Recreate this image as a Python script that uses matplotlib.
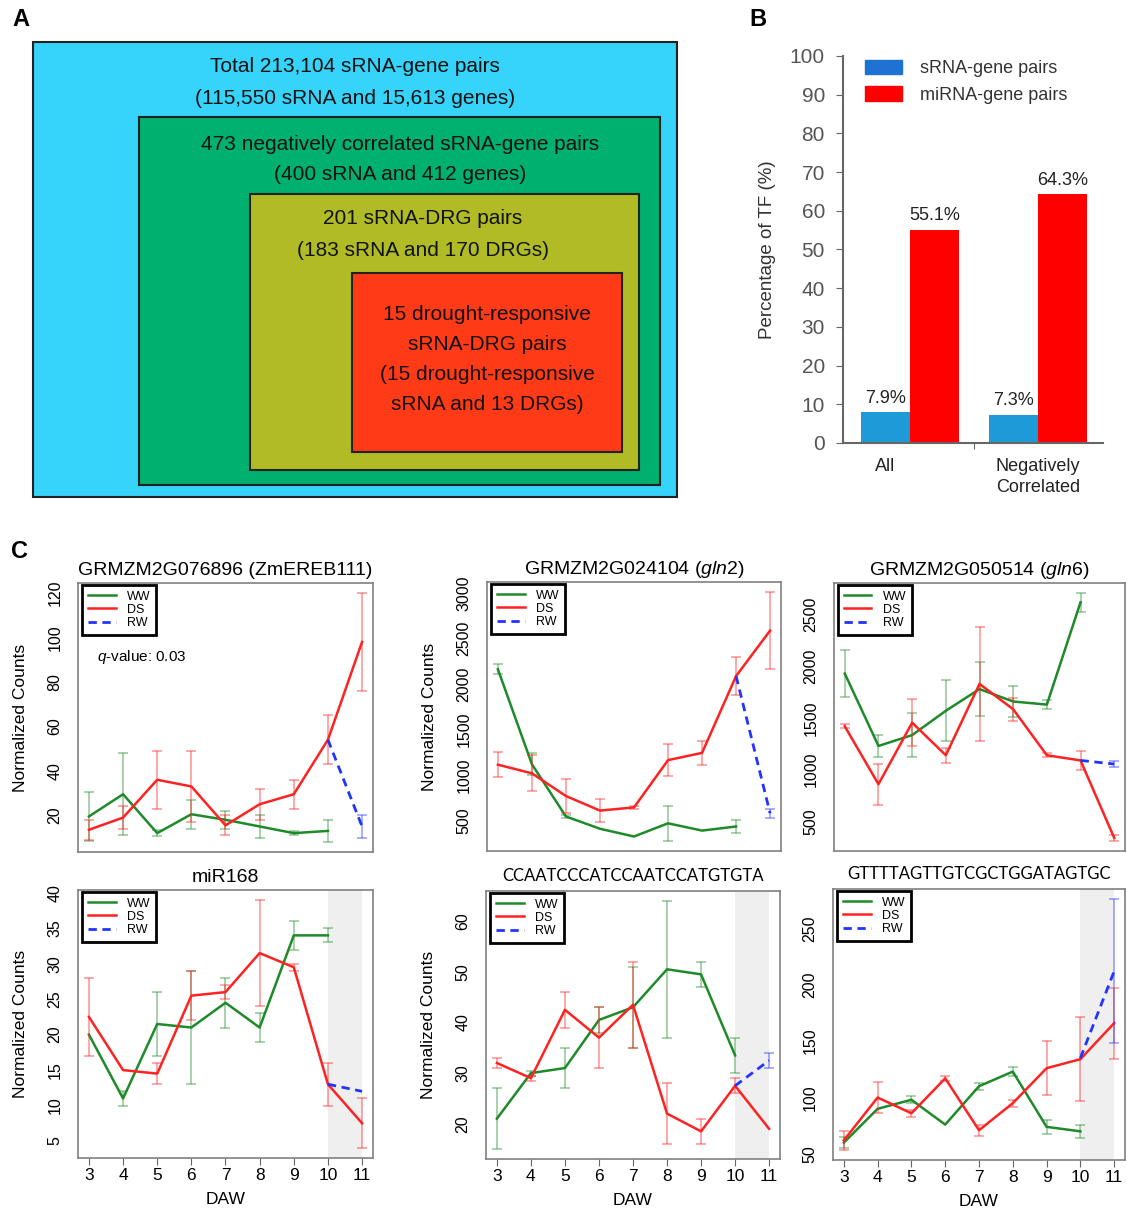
import numpy as np
import matplotlib
matplotlib.use('Agg')
import matplotlib.pyplot as plt
from matplotlib.patches import Rectangle, Patch

plt.rcParams['font.family'] = ['Liberation Sans', 'DejaVu Sans']
plt.rcParams['mathtext.fontset'] = 'custom'
plt.rcParams['mathtext.rm'] = 'Liberation Sans'
plt.rcParams['mathtext.it'] = 'Liberation Sans:italic'

# ---- Panel A: nested sets ----
box_lines = [
    ['Total 213,104 sRNA-gene pairs', '(115,550 sRNA and 15,613 genes)'],
    ['473 negatively correlated sRNA-gene pairs', '(400 sRNA and 412 genes)'],
    ['201 sRNA-DRG pairs', '(183 sRNA and 170 DRGs)'],
    ['15 drought-responsive', 'sRNA-DRG pairs', '(15 drought-responsive', 'sRNA and 13 DRGs)'],
]
box_colors = ['#36d3fa', '#00b06e', '#b0bb25', '#ff3a17']

# ---- Panel B: TF percentages ----
groups = ['All', 'Negatively\nCorrelated']
srna_pct = [7.9, 7.3]
mirna_pct = [55.1, 64.3]

# ---- Panel C: expression profiles ----
days = [3, 4, 5, 6, 7, 8, 9, 10, 11]
ww_days = days[:8]
rw_days = [10, 11]

titles = ['GRMZM2G076896 (ZmEREB111)', r'GRMZM2G024104 ($\it{gln2}$)', r'GRMZM2G050514 ($\it{gln6}$)',
          'miR168', 'CCAATCCCATCCAATCCATGTGTA', 'GTTTTAGTTGTCGCTGGATAGTGC']

ww_mean = [
    [19.5, 29.5, 12, 20.5, 18, 15, 12, 13],
    [2165, 1120, 545, 410, 325, 470, 390, 435],
    [1930, 1230, 1335, 1570, 1780, 1660, 1630, 2620],
    [20, 11, 21.5, 21, 24.5, 21, 34, 34],
    [21, 30, 31, 40.5, 43, 50.5, 49.5, 33.5],
    [60, 90, 98, 76, 110, 123, 74, 70],
]
ww_err = [
    [11, 18.5, 1.5, 6.5, 4, 5, 1, 5],
    [55, 120, 20, 0, 0, 195, 0, 70],
    [230, 110, 215, 295, 260, 150, 40, 90],
    [0, 1, 4.5, 8, 3.5, 2, 2, 1],
    [6, 0.5, 4, 2.5, 8, 13.5, 2.5, 3.5],
    [5, 0, 3, 0, 3, 4, 6, 6],
]
ds_mean = [
    [13.5, 19, 36, 33, 15.5, 25, 29.5, 54, 98],
    [1115, 1020, 770, 610, 645, 1165, 1245, 2090, 2590],
    [1420, 860, 1455, 1140, 1830, 1585, 1140, 1090, 340],
    [22.5, 15, 14.5, 25.5, 26, 31.5, 29.5, 13, 7.5],
    [32, 29, 42.5, 37, 43.5, 22, 18.5, 27.5, 19],
    [62, 100, 86, 117, 71, 95, 126, 134, 166],
]
ds_err = [
    [4.5, 5, 13, 16, 4.5, 7, 6.5, 11, 22],
    [140, 200, 190, 125, 15, 175, 130, 210, 425],
    [20, 200, 225, 75, 550, 110, 20, 90, 30],
    [5.5, 0, 1.5, 3.5, 1, 7.5, 0.5, 3, 3.5],
    [1, 0.5, 3.5, 6, 8.5, 6, 2.5, 1.5, 0],
    [8.5, 13.5, 3, 2, 5, 3, 24, 37.5, 31.5],
]
rw_mean = [[54, 15], [2090, 580], [1090, 1055], [13, 12], [27.5, 32.5], [135, 212]]
rw_err = [[0, 5], [0, 50], [0, 25], [0, 0], [0, 1.5], [0, 64]]

y_ticks = [np.arange(20, 121, 20), np.arange(500, 3001, 500), np.arange(500, 2501, 500),
           np.arange(5, 41, 5), np.arange(20, 61, 10), np.arange(50, 251, 50)]

W, H = 1127, 1212
fig = plt.figure(figsize=(W / 100, H / 100), dpi=100)


def rect(l, t, r, b):
    return [l / W, 1 - b / H, (r - l) / W, (b - t) / H]


# background axes in pixel units for panel A and panel letters
bg = fig.add_axes([0, 0, 1, 1])
bg.set_xlim(0, W)
bg.set_ylim(H, 0)
bg.axis('off')

box_pos = [(33, 42, 677, 497), (139, 117, 660, 485), (250, 194, 639, 470), (352, 273, 622, 452)]
text_x = [355, 400, 423, 487]
text_y = [[67, 98], [145, 175], [219, 250], [314, 345, 375, 405]]
for (l, t, r, b), c in zip(box_pos, box_colors):
    bg.add_patch(Rectangle((l, t), r - l, b - t, facecolor=c, edgecolor='#222222', lw=1.5))
for lines, tx, tys in zip(box_lines, text_x, text_y):
    for s, ty in zip(lines, tys):
        bg.text(tx, ty, s, ha='center', va='center', fontsize=15, color='#111111')

for lab, (lx, ly) in zip(['A', 'B', 'C'], [(21, 20), (758, 20), (20, 551)]):
    bg.text(lx, ly, lab, ha='center', va='center', fontsize=17, fontweight='bold')

# ---- Panel B ----
axB = fig.add_axes(rect(843, 56, 1103, 443))
x = np.arange(len(groups))
w = 0.383
bars1 = axB.bar(x - w / 2, srna_pct, w, color='#1f9ad8')
bars2 = axB.bar(x + w / 2, mirna_pct, w, color='#ff0000')
for bars, vals in [(bars1, srna_pct), (bars2, mirna_pct)]:
    for bar, v in zip(bars, vals):
        axB.annotate(f'{v}%', (bar.get_x() + bar.get_width() / 2, v), xytext=(0, 4),
                     textcoords='offset points', ha='center', va='bottom', fontsize=13, color='#222222')
axB.set_xlim(-0.523, 1.508)
axB.set_ylim(0, 100)
axB.set_yticks(np.arange(0, 101, 10))
axB.set_xticks([0.5])
axB.set_xticklabels([])
axB.tick_params(axis='y', labelsize=15, labelcolor='#555555', color='#666666', length=5, pad=8)
axB.tick_params(axis='x', color='#666666', length=4)
for s in ['top', 'right']:
    axB.spines[s].set_visible(False)
for s in ['left', 'bottom']:
    axB.spines[s].set_color('#666666')
    axB.spines[s].set_linewidth(1.5)
axB.annotate(groups[0], (x[0] - w / 2, 0), xytext=(0, -11), textcoords='offset points',
             ha='center', va='top', fontsize=13, color='#222222')
axB.annotate(groups[1], (x[1], 0), xytext=(0, -11), textcoords='offset points',
             ha='center', va='top', fontsize=13, color='#222222', linespacing=1.25)
axB.set_ylabel('Percentage of TF (%)', fontsize=13.5, color='#333333', labelpad=10)
axB.legend(handles=[Patch(color='#1d72d3', label='sRNA-gene pairs'),
                    Patch(color='#ff0000', label='miRNA-gene pairs')],
           loc='upper left', bbox_to_anchor=(0.085, 0.99), frameon=False, fontsize=13,
           handlelength=2.05, handleheight=0.85, handletextpad=1.0, labelspacing=0.5,
           borderpad=0, borderaxespad=0, labelcolor='#333333')

# ---- Panel C ----
c_pos = [(78, 583, 373, 852), (487, 582, 781, 851), (834, 583, 1125, 851),
         (78, 890, 373, 1158), (486, 891, 780, 1159), (833, 889, 1125, 1160)]
green, red, blue = '#1f8a2a', '#ff2222', '#2233ff'

for i, pos in enumerate(c_pos):
    ax = fig.add_axes(rect(*pos))
    bottom = i >= 3
    if bottom:
        ax.axvspan(10, 11, color='#efefef', zorder=0, lw=0)
    series = [(ww_days, ww_mean[i], ww_err[i], green, '-', 'WW'),
              (days, ds_mean[i], ds_err[i], red, '-', 'DS'),
              (rw_days, rw_mean[i], rw_err[i], blue, (0, (3, 2)), 'RW')]
    for xs, ys, es, c, ls, lab in series:
        xs, ys, es = np.array(xs), np.array(ys), np.array(es)
        m = es > 0
        ax.errorbar(xs[m], ys[m], yerr=es[m], fmt='none', ecolor=c, alpha=0.5,
                    capsize=3.5, elinewidth=1.1, capthick=1.1)
        ax.plot(xs, ys, color=c, lw=1.8 if lab != 'RW' else 2.0, linestyle=ls, label=lab)
    ax.margins(x=0.04, y=0.04)
    ax.set_xlim(2.68, 11.32)
    ax.set_yticks(y_ticks[i])
    ax.tick_params(axis='y', labelrotation=90, labelsize=11.5, length=0, pad=11)
    for t in ax.get_yticklabels():
        t.set_va('center')
    if bottom:
        ax.set_xticks(days)
        ax.tick_params(axis='x', labelsize=12.5, length=5, color='#666666', pad=2)
        ax.set_xlabel('DAW', fontsize=12.5, labelpad=7)
    else:
        ax.set_xticks([])
    for s in ax.spines.values():
        s.set_color('#808080')
        s.set_linewidth(1.2)
    if i % 3 != 2:
        ax.set_ylabel('Normalized Counts', fontsize=12.5)
        ax.yaxis.set_label_coords(-50 / (pos[2] - pos[0]), 0.5)
    if i >= 4:
        ax.set_title(titles[i], fontsize=12, family=['Lato', 'DejaVu Sans'], pad=7)
    else:
        ax.set_title(titles[i], fontsize=14, pad=6)
    leg = ax.legend(loc='upper left', bbox_to_anchor=(0.015, 0.993), fontsize=9, fancybox=False,
                    edgecolor='black', framealpha=1, borderaxespad=0, handlelength=2.2,
                    labelspacing=0.1, borderpad=0.45, handletextpad=0.9)
    leg.get_frame().set_linewidth(2)
    if i == 0:
        ax.text(0.064, 0.725, r'$\it{q}$-value: 0.03', transform=ax.transAxes, fontsize=11,
                va='center', ha='left')

fig.savefig('out.png', dpi=100)
